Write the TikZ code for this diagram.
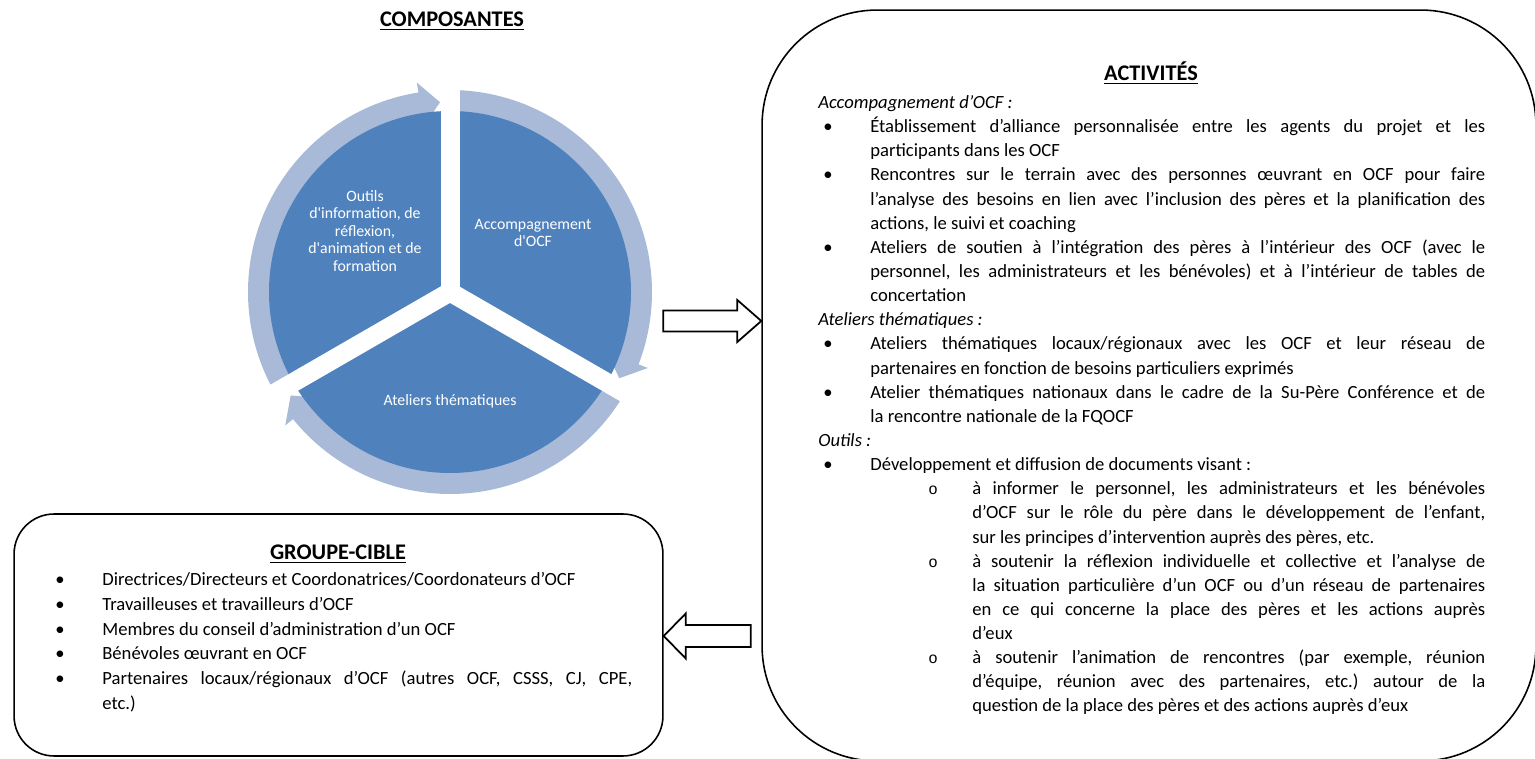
\documentclass[tikz,border=0pt]{standalone}
\usepackage{fontspec}
\setmainfont{Carlito}
\newfontfamily\courier{Liberation Mono}
\definecolor{cyclebleu}{RGB}{79,129,189}
\definecolor{cycleclair}{RGB}{168,186,216}

% one unit of the picture
\newlength\px
\setlength\px{0.02cm}

\newcommand{\corps}{\fontsize{10.6}{13.74}\selectfont\frenchspacing\hyphenpenalty=10000\exhyphenpenalty=10000}
\newcommand{\corpscible}{\fontsize{10.6}{14.17}\selectfont\frenchspacing\hyphenpenalty=10000\exhyphenpenalty=10000}
\newcommand{\titre}[1]{\fontsize{12.7}{15}\selectfont\bfseries\underline{#1}}
% bullet lines and sub-bullet lines
\newcommand{\puce}[1]{\par\hangindent=52\px\hangafter=1\noindent\hspace*{5\px}\makebox[47\px][l]{\textbullet}#1\par}
\newcommand{\sousp}[1]{\par\hangindent=154\px\hangafter=1\noindent\hspace*{110\px}\makebox[44\px][l]{\fontsize{9}{9}\courier o}#1\par}
\newcommand{\rubrique}[1]{\par\noindent\textit{#1}\par}

\tikzset{
  secteur/.style={text=white, font=\fontsize{9}{10}\selectfont, align=center, inner sep=0pt},
  cadre/.style={draw=black, line width=0.9pt},
  fleche/.style={draw=black, line width=1pt, fill=white, line join=miter},
  liste/.style={anchor=north west, inner sep=0pt, align=justify}
}

\begin{document}
\begin{tikzpicture}[x=0.02cm, y=-0.02cm]
  \useasboundingbox (0,0) rectangle (1535,759);

  % Cycle of the three components
  \node[anchor=base] (composantes) at (452,27) {\titre{COMPOSANTES}};
  \begin{scope}[shift={(450,292)}, y=0.02cm]
    % circular arrows behind the sectors
    \foreach \debut/\fin in {208/93, 88/-27, -32/-147} {
      \fill[cycleclair] (\debut:202) arc[start angle=\debut, end angle=\fin+6, radius=202]
        -- (\fin+6:212) -- (\fin:190) -- (\fin+6:168) -- (\fin+6:178)
        arc[start angle=\fin+6, end angle=\debut, radius=178] -- cycle;
    }
    \fill[cyclebleu] (0,0) circle[radius=181];
    % white gaps between the sectors
    \foreach \a in {90,-30,210}
      \draw[white, line width=0.38cm] (0,0) -- (\a:216);
  \end{scope}
  \node[secteur] (outils) at (365,231) {Outils\\d\textquotesingle information, de\\réflexion,\\d\textquotesingle animation et de\\formation};
  \node[secteur] (accomp) at (533,233) {Accompagnement\\d\textquotesingle OCF};
  \node[secteur] (ateliers) at (450,401) {Ateliers thématiques};

  % Activities
  \node[cadre, rounded corners=2.3cm, minimum width=15.48cm, minimum height=15.02cm] (activites) at (1149,385.5) {};
  \node[anchor=base] (titreact) at (1151,81) {\titre{ACTIVITÉS}};
  \node[liste, text width=13.34cm, font=\corps] (listeact) at (818,84) {%
    \rubrique{Accompagnement d’OCF~:}
    \puce{Établissement d’alliance personnalisée entre les agents du projet et les\linebreak participants dans les OCF}
    \puce{Rencontres sur le terrain avec des personnes œuvrant en OCF pour faire\linebreak l’analyse des besoins en lien avec l’inclusion des pères et la planification des\linebreak actions, le suivi et coaching}
    \puce{Ateliers de soutien à l’intégration des pères à l’intérieur des OCF (avec le\linebreak personnel, les administrateurs et les bénévoles) et à l’intérieur de tables de\linebreak concertation}
    \rubrique{Ateliers thématiques~:}
    \puce{Ateliers thématiques locaux/régionaux avec les OCF et leur réseau de\linebreak partenaires en fonction de besoins particuliers exprimés}
    \puce{Atelier thématiques nationaux dans le cadre de la Su-Père Conférence et de\linebreak la rencontre nationale de la FQOCF}
    \rubrique{Outils~:}
    \puce{Développement et diffusion de documents visant~:}
    \sousp{à informer le personnel, les administrateurs et les bénévoles\linebreak d’OCF sur le rôle du père dans le développement de l’enfant,\linebreak sur les principes d’intervention auprès des pères, etc.}
    \sousp{à soutenir la réflexion individuelle et collective et l’analyse de\linebreak la situation particulière d’un OCF ou d’un réseau de partenaires\linebreak en ce qui concerne la place des pères et les actions auprès\linebreak d’eux}
    \sousp{à soutenir l’animation de rencontres (par exemple, réunion\linebreak d’équipe, réunion avec des partenaires, etc.) autour de la\linebreak question de la place des pères et des actions auprès d’eux}
  };

  % Target group
  \node[cadre, rounded corners=0.8cm, minimum width=12.98cm, minimum height=4.84cm] (cible) at (338.5,635) {};
  \node[anchor=base] (titrecible) at (338,560) {\titre{GROUPE-CIBLE}};
  \node[liste, text width=11.64cm, font=\corpscible] (listecible) at (50,560) {%
    \puce{Directrices/Directeurs et Coordonatrices/Coordonateurs d’OCF}
    \puce{Travailleuses et travailleurs d’OCF}
    \puce{Membres du conseil d’administration d’un OCF}
    \puce{Bénévoles œuvrant en OCF}
    \puce{Partenaires locaux/régionaux d’OCF (autres OCF, CSSS, CJ, CPE,\linebreak etc.)}
  };

  % Block arrows between the boxes
  \draw[fleche] (activites.west |- 0,321) -- ++(-24,-21) -- ++(0,10.5) -- ++(-74,0)
    -- ++(0,21) -- ++(74,0) -- ++(0,10.5) -- cycle;
  \draw[fleche] (cible.east |- 0,636) -- ++(22,-22.5) -- ++(0,11.5) -- ++(65,0)
    -- ++(0,22) -- ++(-65,0) -- ++(0,11.5) -- cycle;
\end{tikzpicture}
\end{document}
